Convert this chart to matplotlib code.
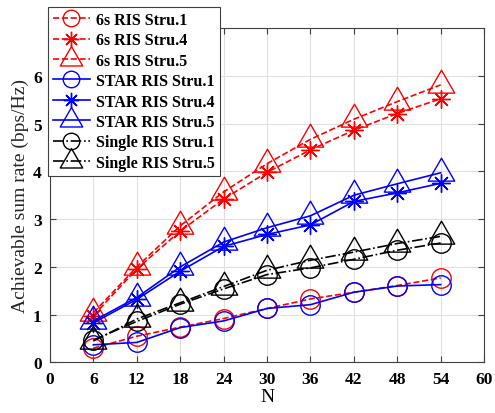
import numpy as np
import matplotlib
matplotlib.use("Agg")
import matplotlib.pyplot as plt
from matplotlib.path import Path

N = [6, 12, 18, 24, 30, 36, 42, 48, 54]

# achievable sum rate (bps/Hz)
sixs_s1 = [0.30, 0.55, 0.74, 0.92, 1.13, 1.33, 1.47, 1.61, 1.77]
sixs_s4 = [0.98, 1.96, 2.75, 3.42, 3.98, 4.45, 4.86, 5.21, 5.52]
sixs_s5 = [1.04, 2.00, 2.86, 3.57, 4.16, 4.67, 5.09, 5.46, 5.81]
star_s1 = [0.37, 0.42, 0.73, 0.87, 1.13, 1.21, 1.47, 1.60, 1.63]
star_s4 = [0.83, 1.32, 1.91, 2.43, 2.68, 2.88, 3.37, 3.55, 3.75]
star_s5 = [0.87, 1.36, 2.00, 2.52, 2.82, 3.07, 3.50, 3.74, 3.97]
single_s1 = [0.47, 0.86, 1.22, 1.54, 1.84, 1.98, 2.16, 2.35, 2.50]
single_s5 = [0.45, 0.91, 1.25, 1.59, 1.93, 2.14, 2.31, 2.49, 2.64]

labels = ['6s RIS Stru.1', '6s RIS Stru.4', '6s RIS Stru.5',
          'STAR RIS Stru.1', 'STAR RIS Stru.4', 'STAR RIS Stru.5',
          'Single RIS Stru.1', 'Single RIS Stru.5']

# matlab style triangle: data point at the centroid
tri = Path([(0, 1.155), (-1, -0.577), (1, -0.577), (0, 1.155)],
           [Path.MOVETO, Path.LINETO, Path.LINETO, Path.CLOSEPOLY])
star = (8, 2, 0)

plt.rcParams['font.family'] = ['Liberation Serif', 'DejaVu Serif']

fig = plt.figure(figsize=(4.95, 4.14), dpi=100)
ax = fig.add_axes([0.101, 0.122, 0.877, 0.808])

series = [
    (sixs_s1, 'r', '--', 'o', 14),
    (sixs_s4, 'r', '--', star, 13),
    (sixs_s5, 'r', '--', tri, 22),
    (star_s1, 'b', '-', 'o', 14),
    (star_s4, 'b', '-', star, 13),
    (star_s5, 'b', '-', tri, 22),
    (single_s1, 'k', '-.', 'o', 14),
    (single_s5, 'k', '-.', tri, 22),
]
for (vals, c, ls, m, ms), lab in zip(series, labels):
    ax.plot(N, vals, color=c, linestyle=ls, marker=m, markersize=ms,
            markerfacecolor='none', markeredgecolor=c, markeredgewidth=1.0,
            linewidth=1.2, label=lab)

ax.set_xlim(0, 60)
ax.set_ylim(0, 7)
ax.set_xticks(range(0, 61, 6))
ax.set_yticks(range(0, 7))
ax.grid(True, color='#e0e0e0', linewidth=0.8)
ax.set_axisbelow(True)
ax.tick_params(direction='in', top=True, right=True, length=4, width=0.8,
               color='#404040', labelsize=12.5, pad=6)
for t in ax.get_xticklabels() + ax.get_yticklabels():
    t.set_fontweight('bold')
for s in ax.spines.values():
    s.set_color('#404040')
    s.set_linewidth(0.8)

ax.set_xlabel('N', fontsize=14, labelpad=1)
ax.set_ylabel('Achievable sum rate (bps/Hz)', fontsize=14, labelpad=3,
              color='#262626')

leg = ax.legend(loc='upper left', bbox_to_anchor=(0.097, 0.981),
                bbox_transform=fig.transFigure, borderaxespad=0,
                fancybox=False, framealpha=1, edgecolor='#404040',
                prop={'weight': 'bold', 'size': 11.5}, handlelength=2.3,
                labelspacing=0.28, handletextpad=0.4, borderpad=0.3,
                markerscale=0.85)
leg.get_frame().set_linewidth(0.8)
leg.set_zorder(10)

fig.savefig('out.png', dpi=100)
